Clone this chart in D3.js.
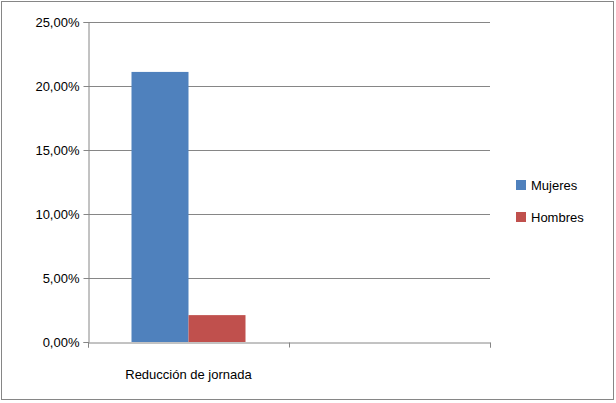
<!DOCTYPE html>
<html><head><meta charset="utf-8">
<script src="https://cdn.jsdelivr.net/npm/d3@7"></script>
<style>body{margin:0;background:#fff}svg{font-family:"Liberation Sans",Arial,sans-serif}</style>
</head><body>
<svg id="c" width="616" height="403"></svg>
<script>
const categories = ["Reducción de jornada", ""];
const seriesNames = ["Mujeres", "Hombres"];
const mujeres = [21.1, null];
const hombres = [2.1, null];
const yTicks = [0, 5, 10, 15, 20, 25];
const colors = ["#4F81BD", "#C0504D"];

const svg = d3.select("#c");
svg.append("rect").attr("x",1.5).attr("y",1.5).attr("width",612).attr("height",398)
  .attr("fill","#fff").attr("stroke","#868686");
const L=88,R=490,T=22,B=342;
const y=d3.scaleLinear().domain([0,25]).range([B,T]);
const x=d3.scaleBand().domain(categories.map((c,i)=>i)).range([L,R]);
const xs=d3.scaleBand().domain(seriesNames).range([0,x.bandwidth()]).paddingOuter(0.75/ (1)).paddingInner(0);
// gridlines
svg.append("g").selectAll("line").data(yTicks.filter(t=>t>0)).join("line")
  .attr("x1",L).attr("x2",R).attr("y1",d=>y(d)+0.5).attr("y2",d=>y(d)+0.5).attr("stroke","#868686");
const ya=svg.append("g").attr("transform",`translate(${L+0.5},0)`)
  .call(d3.axisLeft(y).tickValues(yTicks).tickSize(5).tickPadding(4)
  .tickFormat(d=>d3.format(".2f")(d).replace(".",",")+"%"));
ya.selectAll("text").attr("font-size",13).attr("fill","#000");
ya.selectAll("line,path").attr("stroke","#868686");
const xa=svg.append("g").attr("transform",`translate(0,${B+0.5})`)
  .call(d3.axisBottom(d3.scaleLinear().domain([0,2]).range([L,R])).tickValues([0,1,2]).tickSize(5).tickFormat(""));
xa.selectAll("line,path").attr("stroke","#868686");
svg.append("text").attr("x",x(0)+x.bandwidth()/2).attr("y",379).attr("text-anchor","middle")
  .attr("font-size",13).text(categories[0]);
const data=[mujeres,hombres];
const bw=57;
data.forEach((arr,s)=>{
  svg.append("g").selectAll("rect").data(arr.map((v,i)=>({v,i})).filter(d=>d.v!=null)).join("rect")
   .attr("x",d=>x(d.i)+x.bandwidth()/2-bw+s*bw).attr("width",bw)
   .attr("y",d=>y(d.v)).attr("height",d=>B-y(d.v)).attr("fill",colors[s]);
});
seriesNames.forEach((n,i)=>{
  const g=svg.append("g").attr("transform",`translate(516,${180+i*32})`);
  g.append("rect").attr("width",10).attr("height",10).attr("fill",colors[i]);
  g.append("text").attr("x",15).attr("y",10).attr("font-size",13).text(n);
});
</script></body></html>
